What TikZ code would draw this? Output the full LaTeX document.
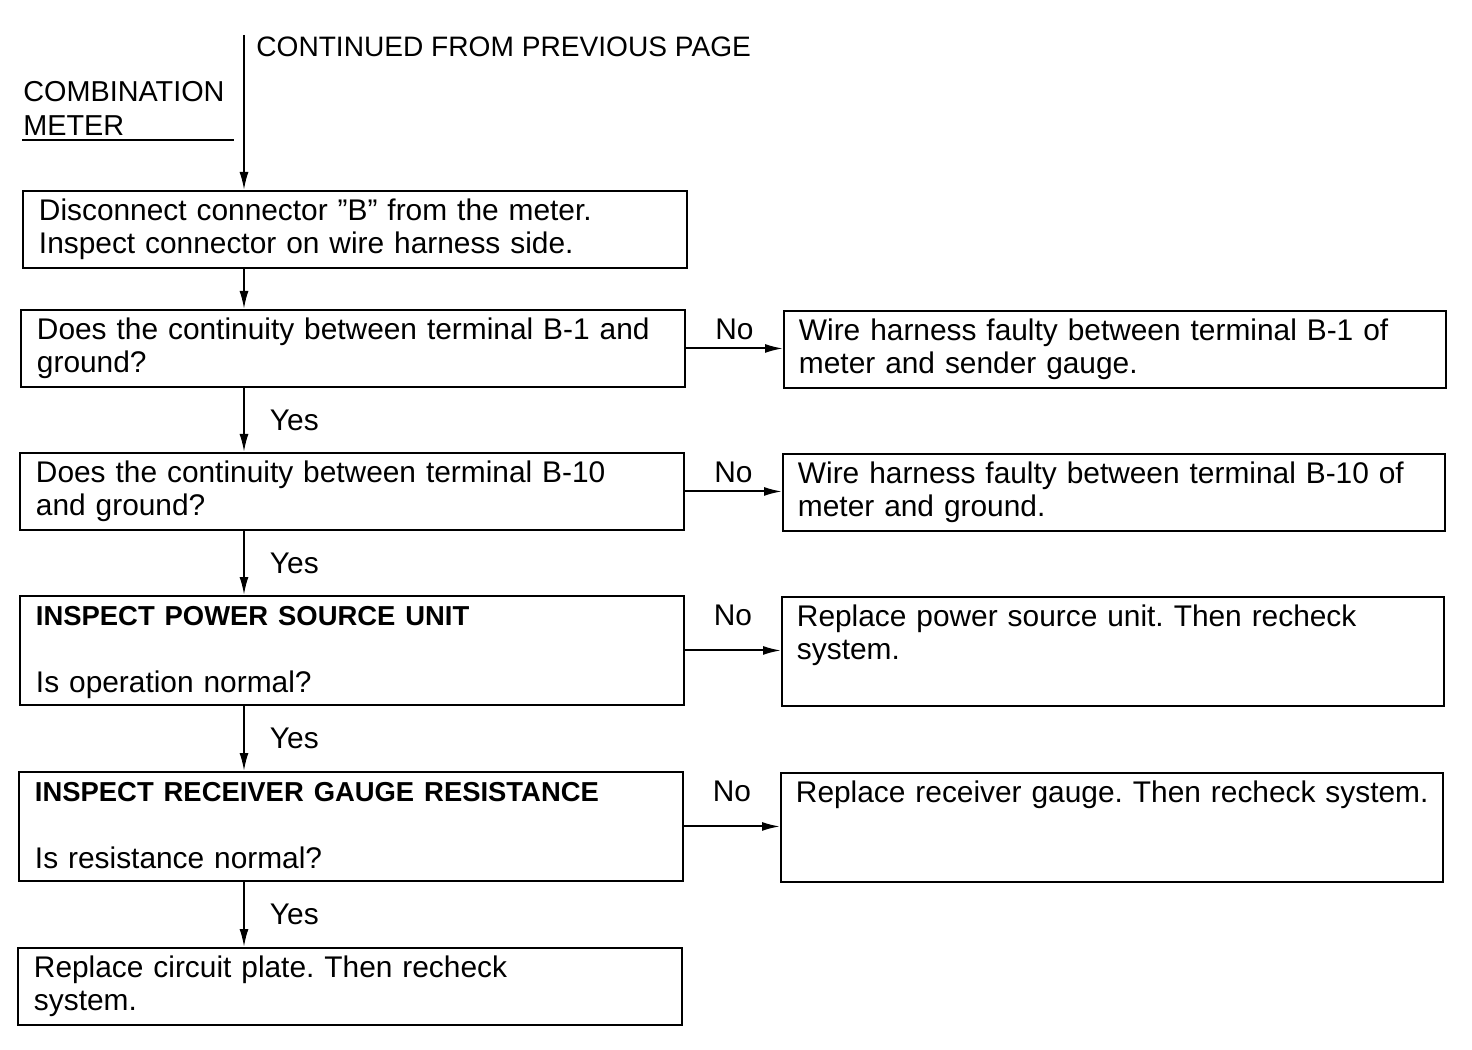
\documentclass[tikz,border=0pt]{standalone}
\usepackage{fontspec}
\setmainfont{Liberation Sans}
\usetikzlibrary{arrows.meta}
\usetikzlibrary{positioning,calc}
\frenchspacing
\hyphenpenalty=10000

\newcommand{\boxfont}{\fontsize{17}{18.8}\selectfont}
\newcommand{\capsfont}{\fontsize{15.6}{18.8}\selectfont}

\tikzset{
	stepbox/.style={draw, line width=1.1pt, anchor=north west,
		inner xsep=0.32cm, inner ysep=0pt, text width=12.64cm, align=left,
		text height=0.6cm, text depth=0.94cm},
	tallbox/.style={stepbox, text depth=1.58cm},
	faultbox/.style={stepbox, inner xsep=0.3cm},
	faulttall/.style={tallbox, inner xsep=0.3cm},
	flow/.style={line width=1.1pt, -{Latex[length=3.6mm,width=1.8mm]}},
	lbl/.style={inner sep=0pt}
}

\begin{document}
\begin{tikzpicture}[x=0.02cm, y=-0.02cm, font=\boxfont]
				\useasboundingbox (0,0) rectangle (1472,1050);
				
				% header
				\coordinate (top) at (244,35);
				\node[lbl, anchor=base west, font=\fontsize{16}{18.8}\selectfont] (cont) at (256,57) {CONTINUED FROM PREVIOUS PAGE};
				\node[lbl, anchor=base west, font=\fontsize{16.4}{18.8}\selectfont, text width=4.5cm, align=left] (meter) at (23,102) {COMBINATION\\METER};
				\draw[line width=1.1pt] (22,140) -- (234,140);
				
				% left column
				\node[stepbox] (disc) at (22,190) {Disconnect connector ''B'' from the meter.\\Inspect connector on wire harness side.};
				\node[stepbox] (qb1) at (20,309) {Does the continuity between terminal B-1 and\\ground?};
				\node[stepbox] (qb10) at (19,452) {Does the continuity between terminal B-10\\and ground?};
				\node[tallbox] (psu) at (19,595) {\textbf{\capsfont INSPECT POWER SOURCE UNIT}\\[\baselineskip]Is operation normal?};
				\node[tallbox] (rcv) at (18,771) {\textbf{\capsfont INSPECT RECEIVER GAUGE RESISTANCE}\\[\baselineskip]Is resistance normal?};
				\node[stepbox] (plate) at (17,947) {Replace circuit plate. Then recheck\\system.};
				
				% right column
				\node[faultbox] (fb1) at (783,310) {Wire harness faulty between terminal B-1 of\\meter and sender gauge.};
				\node[faultbox] (fb10) at (782,453) {Wire harness faulty between terminal B-10 of\\meter and ground.};
				\node[faulttall] (fpsu) at (781,596) {Replace power source unit. Then recheck\\system.};
				\node[faulttall] (frcv) at (780,772) {\mbox{Replace receiver gauge. Then recheck system.}};
				
				% yes path
				\draw[flow] (top) -- (top |- disc.north);
				\draw[flow] (disc.south -| top) -- (qb1.north -| top);
				\draw[flow] (qb1.south -| top) -- node[lbl, right=0.5cm] {Yes} (qb10.north -| top);
				\draw[flow] (qb10.south -| top) -- node[lbl, right=0.5cm] {Yes} (psu.north -| top);
				\draw[flow] (psu.south -| top) -- node[lbl, right=0.5cm] {Yes} (rcv.north -| top);
				\draw[flow] (rcv.south -| top) -- node[lbl, right=0.5cm] {Yes} (plate.north -| top);
				
				% no path
				\draw[flow] (qb1.east) -- (qb1.east -| fb1.west);
				\draw[flow] (qb10.east) -- (qb10.east -| fb10.west);
				\draw[flow] (psu.east) -- (psu.east -| fpsu.west);
				\draw[flow] (rcv.east) -- (rcv.east -| frcv.west);
				\node[lbl, anchor=base] (no1) at ($(qb1.east |- qb1.base)!.5!(fb1.west |- qb1.base)$) {No};
				\node[lbl, anchor=base] (no2) at ($(qb10.east |- qb10.base)!.5!(fb10.west |- qb10.base)$) {No};
				\node[lbl, anchor=base] (no3) at ($(psu.east |- psu.base)!.5!(fpsu.west |- psu.base)$) {No};
				\node[lbl, anchor=base] (no4) at ($(rcv.east |- rcv.base)!.5!(frcv.west |- rcv.base)$) {No};
			\end{tikzpicture}
\end{document}
